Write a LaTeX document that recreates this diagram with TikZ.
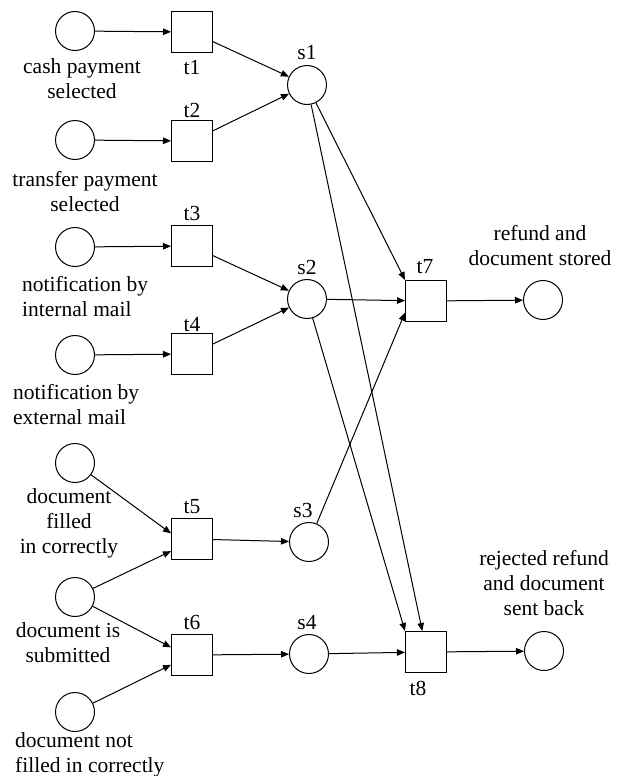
\documentclass[tikz,border=0pt]{standalone}
\usepackage{fontspec}
\setmainfont{Liberation Serif}
\usetikzlibrary{arrows.meta,calc}
\begin{document}
\begin{tikzpicture}[x=1pt,y=-1pt,
 place/.style={circle,draw,line width=1pt,minimum size=39pt,inner sep=0pt},
 trans/.style={rectangle,draw,line width=1pt,minimum size=41pt,inner sep=0pt},
 lbl/.style={font=\fontsize{21.5}{25}\selectfont,inner sep=0pt,align=center},
 lbll/.style={font=\fontsize{21.5}{25}\selectfont,inner sep=0pt,align=left,anchor=west},
 arc/.style={line width=1pt,-{Triangle[length=8pt,width=6.5pt]}}]
\useasboundingbox (0,0) rectangle (625,776);
% places
\node[place] (p1) at (75,31) {};
\node[place] (p2) at (75,140) {};
\node[place] (p3) at (75,247) {};
\node[place] (p4) at (75,355) {};
\node[place] (p5) at (75,463) {};
\node[place] (p6) at (75,597) {};
\node[place] (p7) at (75,712) {};
\node[place] (s1) at (307,85) {};
\node[place] (s2) at (307,299) {};
\node[place] (s3) at (309,542) {};
\node[place] (s4) at (309,654) {};
\node[place] (o1) at (543,300) {};
\node[place] (o2) at (544,651) {};
% transitions
\node[trans] (t1) at (192,32) {};
\node[trans] (t2) at (192,141) {};
\node[trans] (t3) at (192,246) {};
\node[trans] (t4) at (192,354) {};
\node[trans] (t5) at (192,539) {};
\node[trans] (t6) at (192,655) {};
\node[trans] (t7) at (426,301) {};
\node[trans] (t8) at (426,652) {};
% labels
\node[lbl] (l1) at (82,79) {cash payment\\selected};
\node[lbl] (l2) at (85,192) {transfer payment\\selected};
\node[lbll] (l3) at (22,297) {notification by\\internal mail};
\node[lbll] (l4) at (13,405) {notification by\\external mail};
\node[lbl] (l5) at (69,523) {document\\filled\\in correctly};
\node[lbl] (l6) at (68,643) {document is\\submitted};
\node[lbll] (l7) at (15,755) {document not\\filled in correctly};
\node[lbl] (lo1) at (540,246) {refund and\\document stored};
\node[lbl] (lo2) at (544,583) {rejected refund\\and document\\sent back};
\node[lbl] (lt1) at (192,68) {t1};
\node[lbl] (lt2) at (192,110) {t2};
\node[lbl] (lt3) at (192,213) {t3};
\node[lbl] (lt4) at (192,325) {t4};
\node[lbl] (lt5) at (192,507) {t5};
\node[lbl] (lt6) at (192,622) {t6};
\node[lbl] (lt7) at (425,267) {t7};
\node[lbl] (lt8) at (418,688) {t8};
\node[lbl] (ls1) at (307,53) {s1};
\node[lbl] (ls2) at (307,267) {s2};
\node[lbl] (ls3) at (303,510) {s3};
\node[lbl] (ls4) at (307,623) {s4};
% arcs
\draw[arc] (p1) -- (t1);
\draw[arc] (p2) -- (t2);
\draw[arc] (p3) -- (t3);
\draw[arc] (p4) -- (t4);
\draw[arc] (p5) -- (t5.165);
\draw[arc] (p6) -- (t5.210);
\draw[arc] (p6) -- (t6.160);
\draw[arc] (p7) -- (t6.205);
\draw[arc] (t1) -- (s1);
\draw[arc] (t2) -- (s1);
\draw[arc] (t3) -- (s2);
\draw[arc] (t4) -- (s2);
\draw[arc] (t5) -- (s3);
\draw[arc] (t6) -- (s4);
\draw[arc] (s1) -- (t7.north west);
\draw[arc] (s1) -- (t8.100);
\draw[arc] (s2) -- (t7);
\draw[arc] (s2) -- (t8.north west);
\draw[arc] (s3) -- (t7.209);
\draw[arc] (s4) -- (t8);
\draw[arc] (t7) -- (o1);
\draw[arc] (t8) -- (o2);
\end{tikzpicture}
\end{document}
